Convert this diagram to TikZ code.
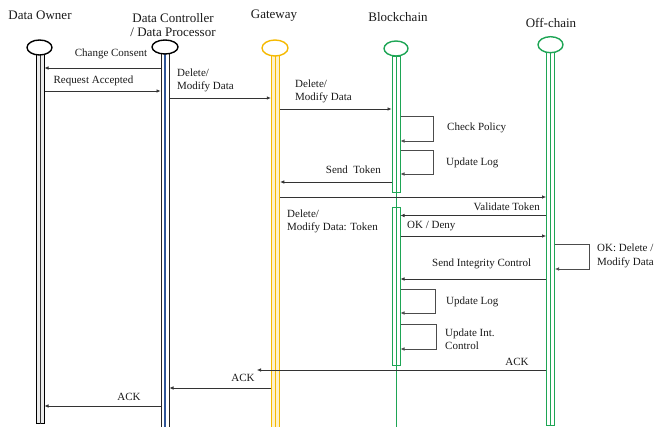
\documentclass[tikz,border=0pt]{standalone}
\usepackage{fontspec}
\setmainfont{Liberation Serif}
\usetikzlibrary{arrows.meta,shapes.geometric}
\definecolor{gr}{RGB}{30,165,85}
\definecolor{yl}{RGB}{245,185,0}
\definecolor{bl}{RGB}{47,85,151}
\begin{document}
\begin{tikzpicture}[x=1pt,y=-1pt,
  hd/.style={font=\fontsize{13}{15}\selectfont, inner sep=0pt, text=black!90},
  lb/.style={font=\fontsize{11}{13.5}\selectfont, inner sep=0pt, align=left, text=black!90},
  head/.style={ellipse, line width=1.4pt, minimum width=25pt, minimum height=15pt, inner sep=0pt, fill=white},
  bar/.style={rectangle, minimum width=8pt, inner sep=0pt, line width=1pt},
  msg/.style={draw=black!80, line width=0.6pt, -{Latex[length=4pt,width=3.5pt]}},
  loopl/.style={draw=black!70, line width=0.6pt, -{Latex[length=4pt,width=3.5pt]}}]
\useasboundingbox (0,0) rectangle (655,427);

% headers
\node[hd] (hown) at (40,15.7) {Data Owner};
\node[hd, align=center] (hctrl) at (173,25) {Data Controller\\[-1pt]/ Data Processor};
\node[hd] (hgw) at (274,15.7) {Gateway};
\node[hd] (hbc) at (398,16.7) {Blockchain};
\node[hd] (hoc) at (551,22.7) {Off-chain};

% lifelines
\node[bar, draw=black, fill=gray!15, minimum height=368pt] (ownbar) at (40,239) {};
\draw[black!80, line width=1pt] (ownbar.north) -- (ownbar.south);
\node[bar, draw=black!85, fill=white, minimum height=374pt] (ctrlbar) at (165,241) {};
\draw[bl, line width=1.3pt] (ctrlbar.north) -- (ctrlbar.south);
\node[bar, draw=yl, fill=yl!20, line width=1.5pt, minimum height=373pt] (gwbar) at (275.5,241.5) {};
\draw[yl, line width=1.3pt] (gwbar.north) -- (gwbar.south);
\coordinate (bctop) at (396,56);
\coordinate (bcbot) at (396,428);
\draw[gr, line width=1pt] (bctop) -- (bcbot);
\node[bar, draw=gr, minimum height=136pt] (bc1) at (396,125) {};
\node[bar, draw=gr, minimum height=157pt] (bc2) at (396,286.5) {};
\node[bar, draw=gr, fill=white, minimum height=372pt] (ocbar) at (550.5,239) {};
\draw[gr, line width=1pt] (ocbar.north) -- (ocbar.south);

% heads
\node[head, draw=black] (own) at (39.5,47.5) {};
\node[head, draw=black, minimum width=26pt, minimum height=14pt] (ctrl) at (165,47) {};
\node[head, draw=yl, minimum width=26pt, minimum height=16pt] (gw) at (275,48) {};
\node[head, draw=gr, minimum width=24pt] (bc) at (396,48.5) {};
\node[head, draw=gr, minimum height=16pt] (oc) at (550.5,44.7) {};

% messages
\draw[msg] (ctrlbar.west |- 0,68) -- (ownbar.east |- 0,68);
\node[lb] (l1) at (111,54) {Change Consent};
\draw[msg] (ownbar.east |- 0,91) -- (ctrlbar.west |- 0,91);
\node[lb] (l2) at (93.5,81) {Request Accepted};
\draw[msg] (ctrlbar.east |- 0,98) -- (gwbar.west |- 0,98);
\node[lb, anchor=west] (l3) at (177,80.5) {Delete/\\Modify Data};
\draw[msg] (gwbar.east |- 0,109) -- (bc1.west |- 0,109);
\node[lb, anchor=west] (l4) at (295,91.5) {Delete/\\Modify Data};

\draw[loopl] (bc1.east |- 0,116) -- ++(33,0) -- ++(0,25) -- (bc1.east |- 0,141);
\node[lb, anchor=west] (l5) at (447,128) {Check Policy};
\draw[loopl] (bc1.east |- 0,150) -- ++(33,0) -- ++(0,24) -- (bc1.east |- 0,174);
\node[lb, anchor=west] (l6) at (446,163) {Update Log};

\draw[msg] (bc1.west |- 0,182) -- (gwbar.east |- 0,182);
\node[lb, anchor=east] (l7) at (381,170) {Send~ Token};
\draw[msg] (gwbar.east |- 0,197) -- (ocbar.west |- 0,197);
\node[lb, anchor=west] (l9) at (287,221.5) {Delete/\\Modify Data: Token};
\draw[msg] (ocbar.west |- 0,215.5) -- (bc2.east |- 0,215.5);
\node[lb, anchor=east] (l8) at (540,207) {Validate Token};
\draw[msg] (bc2.east |- 0,236) -- (ocbar.west |- 0,236);
\node[lb, anchor=west] (l10) at (407,226) {OK / Deny};

\draw[loopl] (ocbar.east |- 0,244) -- ++(34.5,0) -- ++(0,25) -- (ocbar.east |- 0,269);
\node[lb, anchor=west] (l11) at (597,256) {OK: Delete /\\Modify Data};
\draw[msg] (ocbar.west |- 0,279) -- (bc2.east |- 0,279);
\node[lb, anchor=west] (l12) at (432,264) {Send Integrity Control};

\draw[loopl] (bc2.east |- 0,289) -- ++(35,0) -- ++(0,24) -- (bc2.east |- 0,313);
\node[lb, anchor=west] (l13) at (446,302) {Update Log};
\draw[loopl] (bc2.east |- 0,324) -- ++(36,0) -- ++(0,25) -- (bc2.east |- 0,349);
\node[lb, anchor=west] (l14) at (445,339) {Update Int.\\Control};

\coordinate (ack1end) at (257,370);
\draw[msg] (ocbar.west |- 0,370) -- (ack1end);
\node[lb] (a1) at (517,362) {ACK};
\draw[msg] (gwbar.west |- 0,388) -- (ctrlbar.east |- 0,388);
\node[lb] (a2) at (243,378) {ACK};
\draw[msg] (ctrlbar.west |- 0,406) -- (ownbar.east |- 0,406);
\node[lb] (a3) at (129,397) {ACK};
\end{tikzpicture}
\end{document}
